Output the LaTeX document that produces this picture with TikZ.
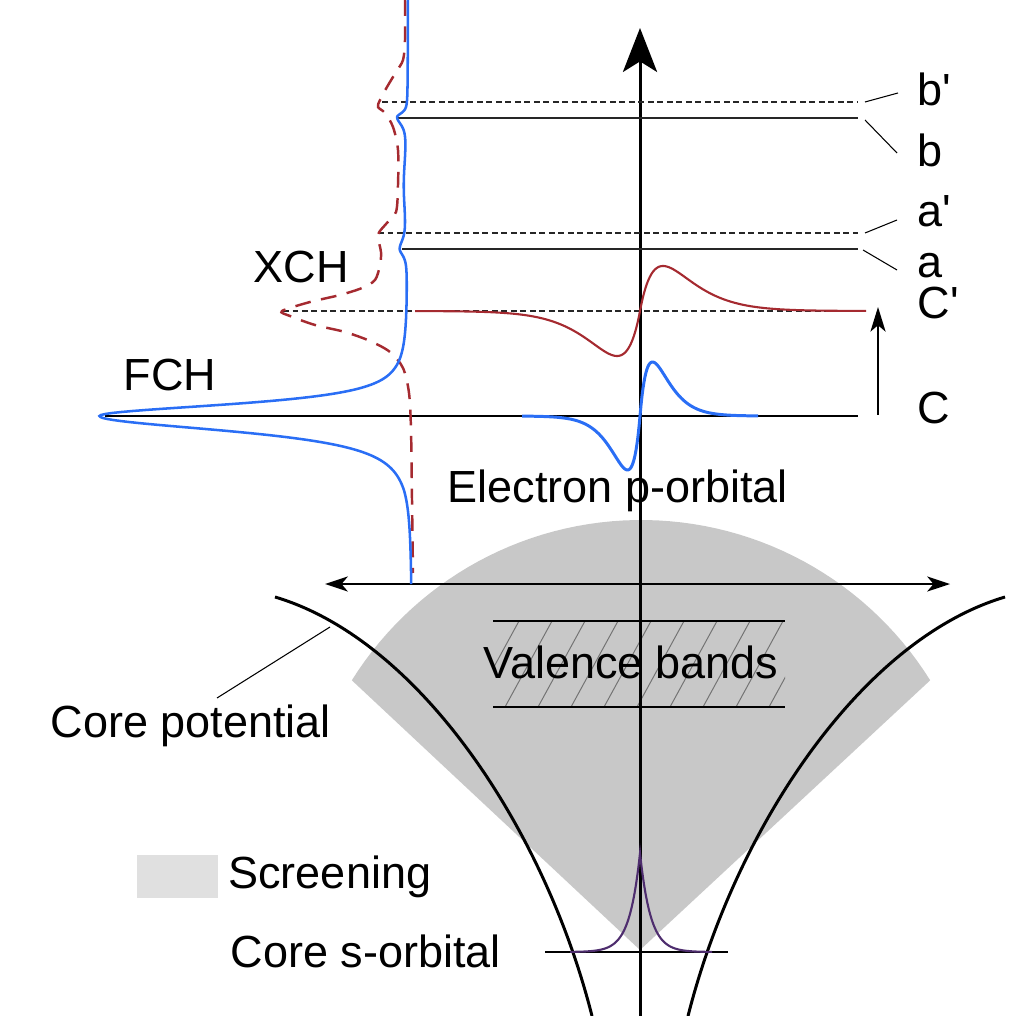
\documentclass[tikz,border=0pt]{standalone}
\usepackage{fontspec}
\setmainfont{Liberation Sans}
\usetikzlibrary{positioning, arrows.meta}

\definecolor{fchblue}{RGB}{42,110,245}
\definecolor{xchred}{RGB}{165,42,48}
\definecolor{screengray}{RGB}{200,200,200}
\definecolor{legendgray}{RGB}{224,224,224}
\definecolor{sorbcol}{RGB}{78,45,110}
\newcommand{\straightq}{\XeTeXglyph\XeTeXcharglyph"0027\relax}

\begin{document}
\begin{tikzpicture}[x=0.01cm, y=-0.01cm, >=Stealth,
    lbl/.style={font=\fontsize{12.8}{15}\selectfont, inner sep=0pt, anchor=base west},
    lvl/.style={black!85, line width=0.35pt},
    lvldash/.style={black!85, line width=0.35pt, dash pattern=on 1.7pt off 1pt},
    leader/.style={black, line width=0.3pt},
    band/.style={black, line width=0.6pt},
    hatch/.style={black!55, line width=0.28pt},
    corepot/.style={black, line width=0.85pt},
    swatch/.style={fill=legendgray, minimum width=0.81cm, minimum height=0.43cm, inner sep=0pt},
    declare function={
      pk(\yy,\cc,\ww)=1/((1+min(((\yy-\cc)/\ww)*((\yy-\cc)/\ww),400))^1.5);
      apk(\yy,\cc,\wa,\wb)=(\yy<\cc) ? pk(\yy,\cc,\wa) : pk(\yy,\cc,\wb);
      fchx(\yy)=410+2*max(-1,min(1,(\yy-430)/60))-4*pk(\yy,185,50)-10*apk(\yy,117,6,12)-7*apk(\yy,249,14,10)-310*apk(\yy,416,17.8,23);
    }]
  \useasboundingbox (0,0) rectangle (1016,1016);

  % screening region
  \fill[screengray] (640,950) -- plot[domain=148:32, samples=60] ({641+341*cos(\x)}, {861-341*sin(\x)}) -- cycle;

  % valence bands
  \begin{scope}
    \clip (493,621) rectangle (785,707);
    \foreach \k in {0,...,9}
      \draw[hatch] (472+33*\k,707) -- (519+33*\k,621);
  \end{scope}
  \draw[band] (493,621) -- (785,621);
  \draw[band] (493,707) -- (785,707);

  % texts
  \node[lbl] (fch) at (123,391) {FCH};
  \node[lbl] (xch) at (253,283) {XCH};
  \node[lbl] (porb) at (447,502) {Electron p-orbital};
  \node[lbl] (valence) at (483,678) {Valence bands};
  \node[lbl] (corepot) at (50,737) {Core potential};
  \node[swatch] (swatch) at (177.5,876.5) {};
  \node[lbl, right=0.09cm of swatch] (screening) {Screening};
  \node[lbl] (sorb) at (230,967) {Core s-orbital};
  \node[lbl] (bp) at (917,106) {b\straightq};
  \node[lbl] (b) at (917,167) {b};
  \node[lbl] (ap) at (917,227) {a\straightq};
  \node[lbl] (a) at (917,278) {a};
  \node[lbl] (Cp) at (917,319) {C\straightq};
  \node[lbl] (C) at (917,424) {C};

  % axes
  \coordinate (origin) at (640,1016);
  \coordinate (ytop) at (640,28);
  \coordinate (xleft) at (325,584);
  \coordinate (xright) at (950,584);
  \draw[line width=0.85pt, -{Stealth[length=12.5pt, width=9.7pt, inset=3pt]}] (origin) -- (ytop);
  \draw[line width=0.55pt, {Stealth[length=6.5pt, width=4.3pt, inset=1.8pt]}-{Stealth[length=6.5pt, width=4.3pt, inset=1.8pt]}] (xleft) -- (xright);

  % core potential
  \draw[corepot] (275,597) .. controls (420,640) and (545,830) .. (592,1016);
  \draw[corepot] (1005,597) .. controls (860,640) and (735,830) .. (688,1016);
  \coordinate (cpfoot) at (217,698);
  \coordinate (cphead) at (330,627);
  \draw[leader] (cpfoot) -- (cphead);

  % levels
  \draw[lvldash] (382,102) -- (858,102);
  \draw[lvl] (397,118) -- (858,118);
  \draw[lvldash] (378,233) -- (858,233);
  \draw[lvl] (402,249) -- (858,249);
  \draw[lvldash] (283,311) -- (858,311);
  \draw[lvl, black] (105,416) -- (858,416);

  % leaders to level labels
  \coordinate (bpend) at (865,102); \coordinate (bptag) at (898,93);
  \coordinate (bend) at (865,120); \coordinate (btag) at (897,153);
  \coordinate (apend) at (865,233); \coordinate (aptag) at (897,220);
  \coordinate (aend) at (863,250); \coordinate (atag) at (897,270);
  \draw[leader] (bpend) -- (bptag);
  \draw[leader] (bend) -- (btag);
  \draw[leader] (apend) -- (aptag);
  \draw[leader] (aend) -- (atag);

  % excitation arrow
  \coordinate (Clev) at (878,415);
  \coordinate (Cplev) at (878,307);
  \draw[line width=0.55pt, -{Stealth[length=7pt, width=4.3pt, inset=1.8pt]}] (Clev) -- (Cplev);

  % XCH spectrum
  \draw[xchred, line width=0.7pt, dash pattern=on 4.5pt off 3pt] plot[smooth] coordinates {(405,0) (405,40) (403,60) (396,72) (387,87) (380,100) (378,107) (385,113) (393,127) (398,150) (398,185) (396,212) (386,224) (378,235) (381,252) (380,265) (375,280) (362,288) (340,295) (310,302) (282,311) (290,316) (315,325) (345,332) (370,341) (390,352) (403,368) (409,393) (411,430) (412,500) (413,573)};

  % FCH spectrum
  \draw[fchblue, line width=0.72pt] plot[variable=\t, domain=0:584, samples=585] ({fchx(\t)}, \t);

  % p-orbitals
  \draw[xchred, line width=0.6pt] plot[domain=415:866, samples=452] (\x, {311-45*((\x-640)/23)*exp(1-abs(\x-640)/23)});
  \draw[fchblue, line width=0.85pt] plot[domain=522:758, samples=237] (\x, {416-54*((\x-640)/12.5)*exp(1-abs(\x-640)/12.5)});

  % core s-orbital
  \coordinate (sleft) at (545,952);
  \coordinate (sright) at (728,952);
  \draw[line width=0.7pt] (sleft) -- (sright);
  \draw[sorbcol, line width=0.6pt] plot[domain=570:712, samples=285] (\x, {952-99*exp(-abs(\x-640)/10.5)});
\end{tikzpicture}
\end{document}
